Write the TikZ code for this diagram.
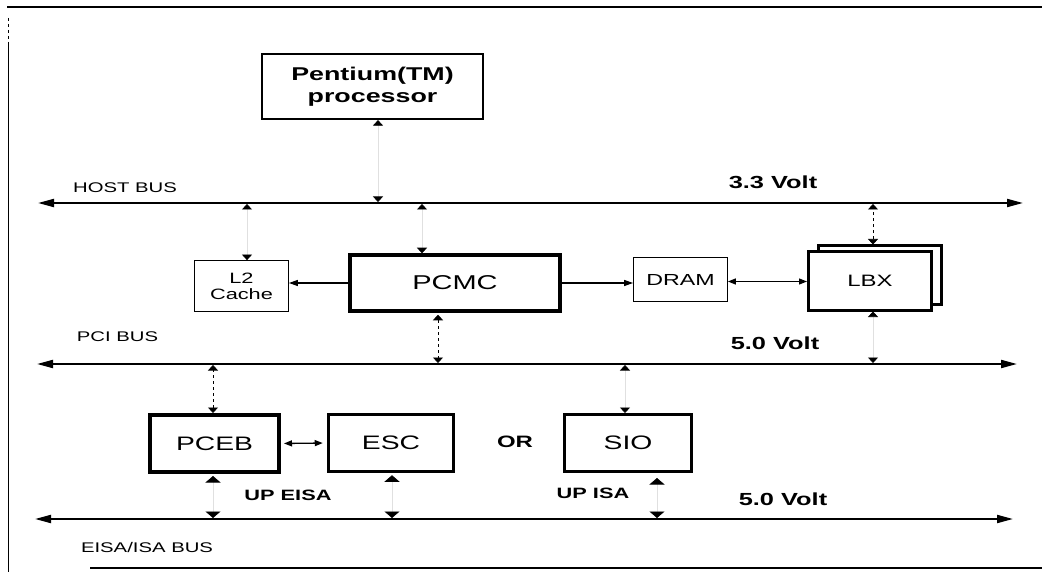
\documentclass[tikz,border=0pt]{standalone}
\usepackage{fontspec}
\setmainfont{Liberation Sans}[FakeStretch=1.45]
\usetikzlibrary{arrows.meta, positioning}

\begin{document}
\begin{tikzpicture}[x=1pt, y=-1pt,
    proc/.style={rectangle, draw, line width=2.2pt, inner sep=0pt, align=center,
                 font=\bfseries\fontsize{18.5}{22}\selectfont},
    chip/.style={rectangle, draw, line width=3pt, inner sep=0pt, fill=white,
                 minimum width=126pt, minimum height=57pt, font=\fontsize{19.5}{23}\selectfont},
    mem/.style={rectangle, draw, line width=0.8pt, inner sep=0pt, align=center,
                font=\fontsize{15}{16}\selectfont},
    bus/.style={line width=2pt, {Triangle[length=16pt, width=8pt]}-{Triangle[length=16pt, width=8pt]}},
    buslabel/.style={anchor=base, font=\fontsize{14}{16}\selectfont},
    volt/.style={anchor=base, font=\bfseries\fontsize{17.5}{20}\selectfont},
    uplabel/.style={anchor=base, font=\bfseries\fontsize{15}{18}\selectfont},
    tap/.style={line width=0.6pt, dashed, {Triangle[length=5.5pt, width=10pt, color=black]}-{Triangle[length=5.5pt, width=10pt, color=black]}},
    faint/.style={tap, solid, draw=black!12},
    bigtap/.style={line width=0.6pt, draw=black!12, {Triangle[length=6.5pt, width=15pt, color=black]}-{Triangle[length=6.5pt, width=15pt, color=black]}},
    arrow/.style={line width=1.3pt, -{Triangle[length=9pt, width=6pt]}},
    twoway/.style={line width=1.3pt, {Triangle[length=8pt, width=6pt]}-{Triangle[length=8pt, width=6pt]}}
]
    \useasboundingbox (0,0) rectangle (1042,572);

    % page frame from the scan
    \draw[line width=1.2pt] (7,7) -- (1042,7);
    \draw[line width=1pt, dashed] (8,18) -- (8,42);
    \draw[line width=1pt] (8,42) -- (8,572);
    \draw[line width=1.2pt] (90,568) -- (1042,568);

    % buses
    \coordinate (hostL) at (38,203);  \coordinate (hostR) at (1023,203);
    \coordinate (pciL) at (37,364);   \coordinate (pciR) at (1017,364);
    \coordinate (eisaL) at (35,519);  \coordinate (eisaR) at (1013,519);
    \draw[bus] (hostL) -- (hostR);
    \draw[bus] (pciL) -- (pciR);
    \draw[bus] (eisaL) -- (eisaR);

    \node[buslabel] (hostlbl) at (125,193) {HOST BUS};
    \node[volt] (hostvolt) at (773,189) {3.3 Volt};
    \node[buslabel] (pcilbl) at (117.5,341) {PCI BUS};
    \node[volt] (pcivolt) at (775,349) {5.0 Volt};
    \node[volt] (eisavolt) at (783,505) {5.0 Volt};
    \node[buslabel] (eisalbl) at (147,552) {EISA/ISA BUS};

    % blocks
    \node[proc, minimum width=221pt, minimum height=65pt] (pentium) at (372.5,86.5) {Pentium(TM)\\processor};
    \node[mem, minimum width=94pt, minimum height=51pt] (l2) at (241.5,286) {L2\\Cache};
    \node[chip, line width=3.5pt, minimum width=210pt, minimum height=56pt,
          font=\fontsize{20}{24}\selectfont] (pcmc) at (455,283) {PCMC};
    \node[mem, minimum width=94pt, minimum height=44pt, font=\fontsize{16}{18}\selectfont] (dram) at (680.5,279.5) {DRAM};
    \node[chip, minimum width=123pt, minimum height=58pt] (lbxback) at (880,275) {};
    \node[chip, minimum width=123pt, minimum height=58pt, font=\fontsize{16.5}{20}\selectfont] (lbx) at (870,281) {LBX};
    \node[chip, line width=4pt, minimum width=129pt] (pceb) at (214.5,443.5) {PCEB};
    \node[chip, line width=3.5pt, minimum width=125pt] (esc) at (391,443) {ESC};
    \node[uplabel, font=\bfseries\fontsize{16.5}{20}\selectfont] (or) at (515,447) {OR};
    \node[chip, minimum width=127pt] (sio) at (628,443) {SIO};
    \node[uplabel] (upeisa) at (288,500) {UP EISA};
    \node[uplabel] (upisa) at (593,498) {UP ISA};

    % taps on the buses
    \coordinate (hostP) at (378,203);  \coordinate (hostC) at (247,203);
    \coordinate (hostM) at (422,203);  \coordinate (hostX) at (873,203);
    \coordinate (pciM) at (438,364);   \coordinate (pciX) at (873,364);
    \coordinate (pciB) at (213,364);   \coordinate (pciS) at (625,364);
    \coordinate (eisaB) at (213,519);  \coordinate (eisaE) at (392,519);
    \coordinate (eisaS) at (657,519);

    \draw[faint, shorten >=1pt] (pentium.south -| hostP) -- (hostP);
    \draw[faint, shorten >=1pt] (l2.north -| hostC) -- (hostC);
    \draw[faint, shorten >=1pt] (pcmc.north -| hostM) -- (hostM);
    \draw[tap, shorten >=1pt] (lbxback.north -| hostX) -- (hostX);
    \draw[tap, shorten <=2pt, shorten >=1pt] (pcmc.south -| pciM) -- (pciM);
    \draw[faint, shorten >=1pt] (lbx.south -| pciX) -- (pciX);
    \draw[tap, shorten >=1pt] (pceb.north -| pciB) -- (pciB);
    \draw[faint, shorten >=1pt] (sio.north -| pciS) -- (pciS);
    \draw[bigtap, shorten <=2pt, shorten >=1pt] (pceb.south -| eisaB) -- (eisaB);
    \draw[bigtap, shorten <=2pt, shorten >=1pt] (esc.south -| eisaE) -- (eisaE);
    \draw[bigtap, shorten <=5pt, shorten >=1pt] (sio.south -| eisaS) -- (eisaS);

    % links between blocks
    \draw[arrow] (pcmc.west) -- (pcmc.west -| l2.east);
    \draw[arrow] (pcmc.east) -- (pcmc.east -| dram.west);
    \draw[twoway] ([yshift=-2pt]dram.east) -- ([yshift=-2pt]dram.east -| lbx.west);
    \draw[twoway, shorten <=3pt, shorten >=4pt] (pceb.east) -- (esc.west);
\end{tikzpicture}
\end{document}
